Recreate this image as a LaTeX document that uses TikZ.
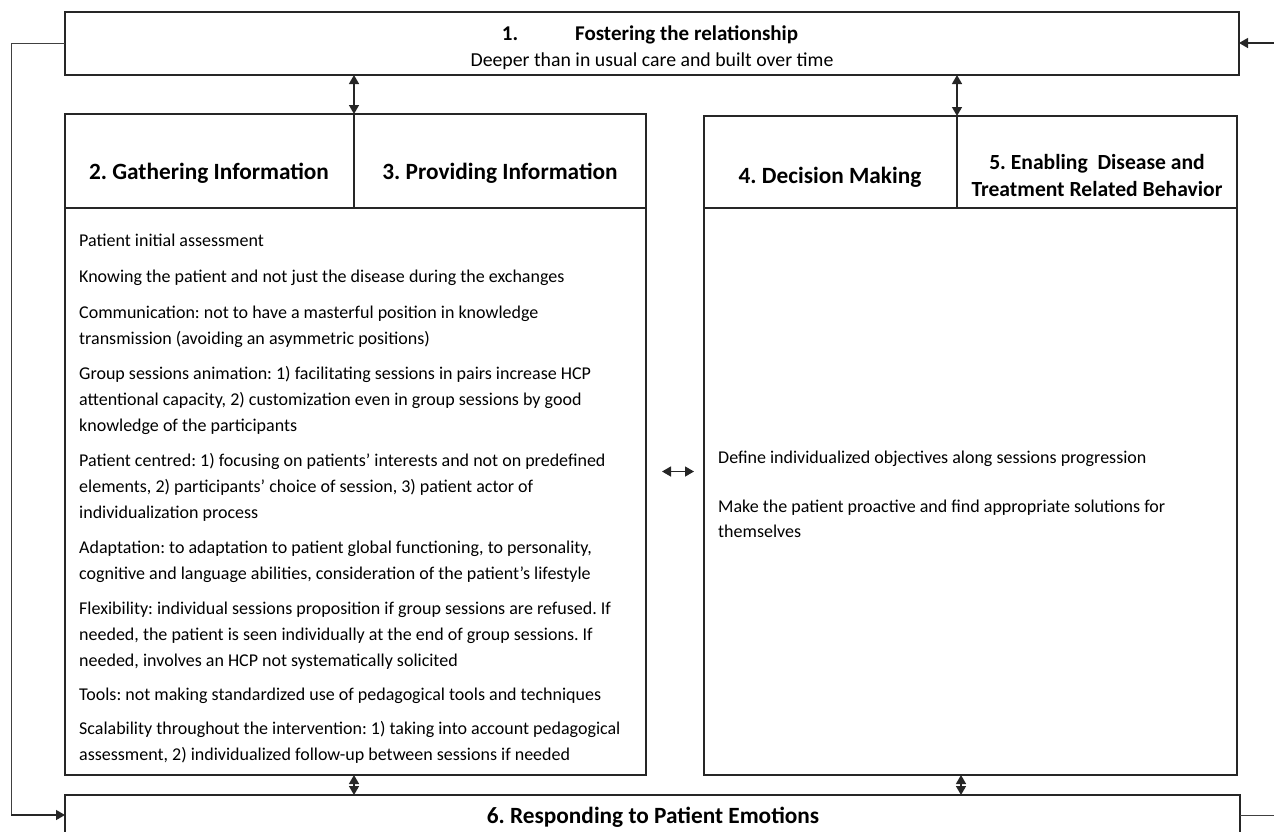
\documentclass[tikz,border=0pt]{standalone}
\usepackage{fontspec}
\setmainfont{Carlito}
\usetikzlibrary{arrows.meta}
\begin{document}
\frenchspacing
\begin{tikzpicture}[x=1pt,y=-1pt]
\tikzset{
  frame/.style={draw=black!85, line width=1.6pt, inner sep=0pt, outer sep=0pt, anchor=north west},
  link/.style={draw=black!85, line width=1.4pt},
  tip/.tip={Triangle[length=9pt,width=10pt]},
  twoway/.style={link, tip-tip},
  oneway/.style={link, -tip},
  guide/.style={draw=black!75, line width=0.9pt},
  head/.style={font=\fontsize{23.3}{27}\selectfont\bfseries, align=center, inner sep=0pt, anchor=base},
  body/.style={font=\fontsize{18}{26}\selectfont, anchor=base west, inner sep=0pt},
}
\useasboundingbox (0,0) rectangle (1274,831);
\clip (0,0) rectangle (1274,831);

% 1. top band
\node[frame, minimum width=1174pt, minimum height=63pt] (top) at (65,12) {};
\node[head, font=\fontsize{21}{24}\selectfont\bfseries] (t1) at (650,40) {1.\hspace{57pt}Fostering the relationship};
\node[body, anchor=base, font=\fontsize{19.8}{22}\selectfont] (t1s) at (652,66) {Deeper than in usual care and built over time};

% left block: headers 2 and 3 with shared body
\node[frame, minimum width=289pt, minimum height=94pt] (gL) at (65,114) {};
\node[frame, minimum width=292pt, minimum height=94pt] (pL) at (354,114) {};
\node[frame, minimum width=581pt, minimum height=567pt] (bL) at (65,208) {};
\node[head] (h2) at (209,179) {2. Gathering Information};
\node[head] (h3) at (500,179) {3. Providing Information};

% right block: headers 4 and 5 with shared body
\node[frame, minimum width=253pt, minimum height=92pt] (dR) at (704,116) {};
\node[frame, minimum width=280pt, minimum height=92pt] (eR) at (957,116) {};
\node[frame, minimum width=533pt, minimum height=567pt] (bR) at (704,208) {};
\node[head] (h4) at (830,183) {4. Decision Making};
\node[head, font=\fontsize{21.6}{27}\selectfont\bfseries] (h5) at (1097,196) {5. Enabling\ \ Disease and\\Treatment Related Behavior};

% 6. bottom band
\node[frame, minimum width=1175pt, minimum height=60pt] (bot) at (65,795) {};
\node[head] (h6) at (653,823) {6. Responding to Patient Emotions};

% left body text
\node[body] (a1)  at (79,246) {Patient initial assessment};
\node[body] (a2)  at (79,282) {Knowing the patient and not just the disease during the exchanges};
\node[body] (a3)  at (79,318) {Communication: not to have a masterful position in knowledge};
\node[body] (a4)  at (79,344) {transmission (avoiding an asymmetric positions)};
\node[body] (a5)  at (79,379) {Group sessions animation: 1) facilitating sessions in pairs increase HCP};
\node[body] (a6)  at (79,405) {attentional capacity, 2) customization even in group sessions by good};
\node[body] (a7)  at (79,431) {knowledge of the participants};
\node[body] (a8)  at (79,466) {Patient centred: 1) focusing on patients’ interests and not on predefined};
\node[body] (a9)  at (79,492) {elements, 2) participants’ choice of session, 3) patient actor of};
\node[body] (a10) at (79,518) {individualization process};
\node[body] (a11) at (79,553) {Adaptation: to adaptation to patient global functioning, to personality,};
\node[body] (a12) at (79,579) {cognitive and language abilities, consideration of the patient's lifestyle};
\node[body] (a13) at (79,614) {Flexibility: individual sessions proposition if group sessions are refused. If};
\node[body] (a14) at (79,640) {needed, the patient is seen individually at the end of group sessions. If};
\node[body] (a15) at (79,666) {needed, involves an HCP not systematically solicited};
\node[body] (a16) at (79,700) {Tools: not making standardized use of pedagogical tools and techniques};
\node[body] (a17) at (79,734) {Scalability throughout the intervention: 1) taking into account pedagogical};
\node[body] (a18) at (79,760) {assessment, 2) individualized follow-up between sessions if needed};

% right body text
\node[body] (b1) at (718,463) {Define individualized objectives along sessions progression};
\node[body] (b2) at (718,512) {Make the patient proactive and find appropriate solutions for};
\node[body] (b3) at (718,537) {themselves};

% vertical exchanges between the bands and the blocks
\draw[twoway] (top.south -| gL.east) -- (gL.north east);
\draw[twoway] (top.south -| eR.west) -- (eR.north west);
\draw[twoway] (bL.south -| gL.east) -- (bot.north -| gL.east);
\draw[twoway] ([xshift=4pt]bR.south -| eR.west) -- ([xshift=4pt]bot.north -| eR.west);
% exchange between the two blocks
\draw[twoway, shorten <=16pt, shorten >=10pt] ([yshift=20pt]bL.east) -- ([yshift=20pt]bL.east -| bR.west);

% loop from band 1 down to band 6
\coordinate (lc1) at (11,43);
\coordinate (lc2) at (11,815);
\draw[guide] (top.west |- lc1) -- (lc1) -- (lc2);
\draw[oneway] (lc2) -- (bot.west |- lc2);
% free ends on the right side
\coordinate (rc1) at (1274,43);
\coordinate (rc2) at (1274,815);
\draw[oneway] (rc1) -- (top.east |- rc1);
\draw[guide] (bot.east |- rc2) -- (rc2);
\end{tikzpicture}
\end{document}
